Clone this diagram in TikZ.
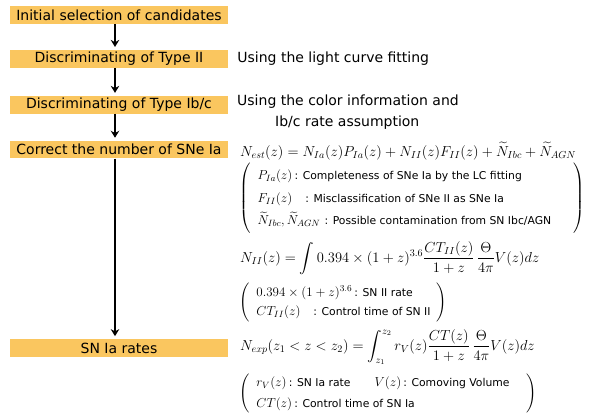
\RequirePackage{fix-cm}
\documentclass[tikz,border=0pt]{standalone}
\usepackage{amsmath,amssymb}
\usepackage[no-math]{fontspec}
\newfontfamily\gothic{DejaVu Sans}
\usepackage{tikz}
\usetikzlibrary{arrows.meta,positioning}
\usepackage{xcolor}
\definecolor{barorange}{RGB}{250,198,95}
\newcommand{\remtext}[1]{{\gothic\fontsize{10.8}{12}\selectfont #1}}

\begin{document}
\begin{tikzpicture}[x=1pt,y=1pt,
		stage/.style={rectangle, fill=barorange, minimum width=218pt, minimum height=17.5pt, inner sep=0pt, font=\gothic\fontsize{14}{16}\selectfont, text centered},
		remark/.style={inner sep=0pt, align=left, font=\gothic\fontsize{14}{21}\selectfont},
		formula/.style={inner sep=0pt, anchor=west, font=\fontsize{14.5}{17}\selectfont},
		legend/.style={inner sep=0pt, anchor=west, font=\fontsize{13}{15}\selectfont},
		flow/.style={->, line width=1.6pt, shorten >=3pt},
		>={Stealth[length=7pt,width=8.5pt]}]
	\useasboundingbox (0,0) rectangle (595,-414);
	\node (init) [stage] at (119,-15) {Initial selection of candidates};
	\node (two) [stage, below=26pt of init] {Discriminating of Type II};
	\node (three) [stage, below=28pt of two] {Discriminating of Type Ib/c};
	\node (four) [stage, below=27pt of three] {Correct the number of SNe Ia};
	\node (five) [stage, below=180.5pt of four] {SN Ia rates};
	
	\draw [flow] ([xshift=-4pt]init.south) -- ([xshift=-4pt]two.north);
	\draw [flow] ([xshift=-4pt]two.south) -- ([xshift=-4pt]three.north);
	\draw [flow] ([xshift=-4pt]three.south) -- ([xshift=-4pt]four.north);
	\draw [flow] ([xshift=-4pt]four.south) -- ([xshift=-4pt]five.north);
	
	% notes on the right
	\node (lc) [remark, right=9pt of two] {Using the light curve fitting};
	\node (color) [remark, anchor=north west] at (237,-95) {Using the color information and\\\hspace*{38pt}Ib/c rate assumption};
	
	% corrected number
	\node (nest) [formula] at (240,-151) {$N_{est}(z) = N_{Ia}(z)P_{Ia}(z) + N_{II}(z)F_{II}(z) + \widetilde{N}_{Ibc} + \widetilde{N}_{AGN}$};
	\node (nestkey) [legend] at (239,-198) {\renewcommand{\arraystretch}{1.5}$\left(\begin{tabular}{@{\hspace{7pt}}p{316pt}@{}}
		$P_{Ia}(z)$\,\remtext{: Completeness of SNe Ia by the LC fitting}\\
		$F_{II}(z)$\quad\remtext{: Misclassification of SNe II as SNe Ia}\\
		$\widetilde{N}_{Ibc}, \widetilde{N}_{AGN}$\ \remtext{: Possible contamination from SN Ibc/AGN}
	\end{tabular}\right)$};
	\node (nii) [formula] at (240,-258) {$N_{II}(z) = \displaystyle\int 0.394\times(1+z)^{3.6}\frac{CT_{II}(z)}{1+z}\,\frac{\Theta}{4\pi}V(z)dz$};
	\node (niikey) [legend] at (239,-302) {\renewcommand{\arraystretch}{1.3}$\left(\begin{tabular}{@{\hspace{7pt}}p{180pt}@{}}
		$0.394\times(1+z)^{3.6}$\,\remtext{: SN II rate}\\
		$CT_{II}(z)$\quad\remtext{: Control time of SN II}
	\end{tabular}\right)$};
	
	% rate
	\node (nexp) [formula] at (240,-347) {$N_{exp}(z_1<z<z_2) = \displaystyle\int_{z_1}^{z_2} r_V(z)\frac{CT(z)}{1+z}\,\frac{\Theta}{4\pi}V(z)dz$};
	\node (nexpkey) [legend] at (239,-393) {\renewcommand{\arraystretch}{1.4}$\left(\begin{tabular}{@{\hspace{7pt}}p{270pt}@{}}
		$r_V(z)$\,\remtext{: SN Ia rate}\hspace{24pt}$V(z)$\,\remtext{: Comoving Volume}\\
		$CT(z)$\,\remtext{: Control time of SN Ia}
	\end{tabular}\right)$};
\end{tikzpicture}
\end{document}
